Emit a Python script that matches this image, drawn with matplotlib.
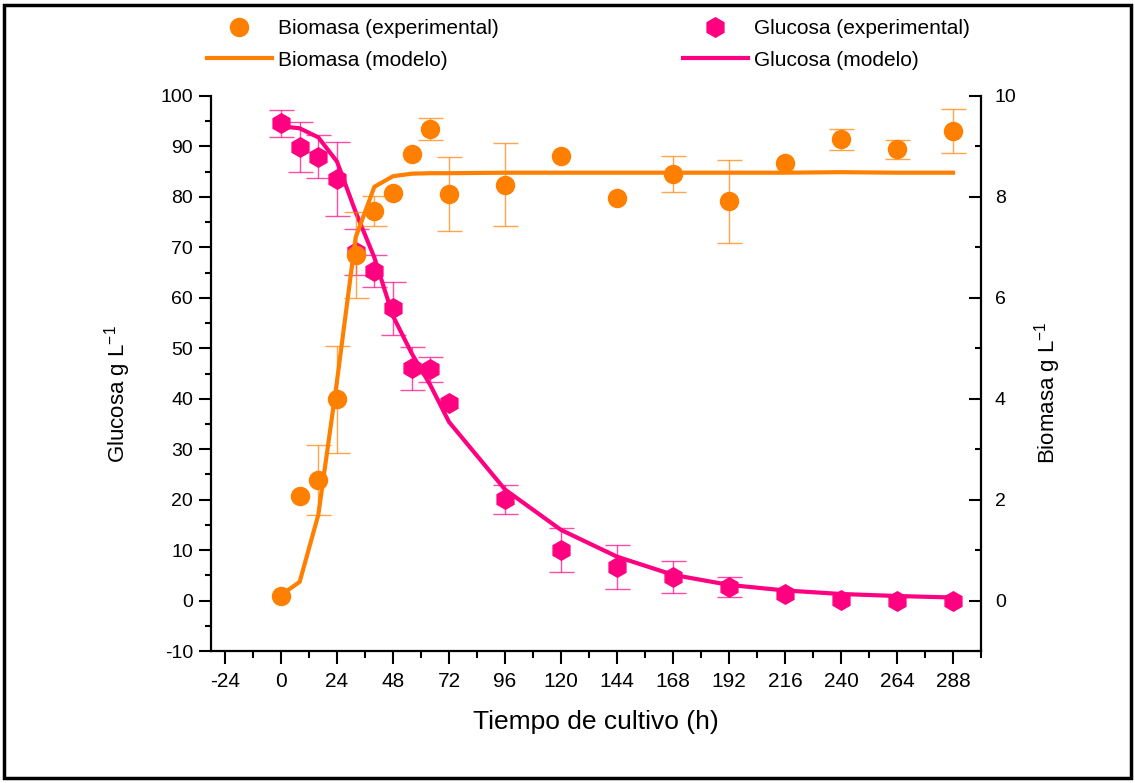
import numpy as np
import matplotlib
matplotlib.use('Agg')
import matplotlib.pyplot as plt
from matplotlib.ticker import MultipleLocator
from matplotlib.patches import Rectangle

# Datos (tiempo en h, glucosa en g/L, biomasa en g/L)
tiempo = [0, 8, 16, 24, 32, 40, 48, 56, 64, 72, 96, 120, 144, 168, 192, 216, 240, 264, 288]

glucosa_exp = [94.6, 89.9, 88.0, 83.5, 69.1, 65.3, 57.9, 46.0, 45.8, 39.2,
               20.1, 10.0, 6.6, 4.7, 2.7, 1.2, 0.1, 0.0, 0.0]
glucosa_err = [2.7, 5.0, 4.3, 7.3, 4.5, 3.1, 5.2, 4.3, 2.4, 0.0,
               2.9, 4.4, 4.4, 3.2, 1.9, 0.0, 0.0, 0.0, 0.0]
glucosa_modelo = [94.0, 93.6, 91.8, 87.0, 77.0, 68.0, 56.4, 49.0, 42.7, 35.4,
                  22.0, 14.0, 8.7, 5.1, 3.1, 2.0, 1.3, 0.9, 0.6]

biomasa_exp = [0.10, 2.07, 2.39, 3.99, 6.85, 7.72, 8.08, 8.86, 9.34, 8.06,
               8.24, 8.81, 7.97, 8.45, 7.91, 8.67, 9.14, 8.94, 9.31]
biomasa_err = [0.0, 0.0, 0.69, 1.06, 0.85, 0.30, 0.0, 0.0, 0.22, 0.74,
               0.82, 0.0, 0.0, 0.36, 0.82, 0.0, 0.21, 0.18, 0.44]
biomasa_modelo = [0.11, 0.37, 1.70, 4.35, 7.20, 8.20, 8.41, 8.46, 8.47, 8.47,
                  8.48, 8.48, 8.48, 8.48, 8.48, 8.48, 8.49, 8.48, 8.48]

NARANJA = '#FF8000'
ROSA = '#FF0080'

plt.rcParams['font.family'] = ['Liberation Sans', 'DejaVu Sans']
plt.rcParams['mathtext.default'] = 'regular'
plt.rcParams['axes.unicode_minus'] = False


def barras_error(ax, x, y, err, color):
    """Dibuja solo las barras de error distintas de cero."""
    x, y, err = np.asarray(x), np.asarray(y), np.asarray(err)
    m = err > 0
    ax.errorbar(x[m], y[m], yerr=err[m], fmt='none', ecolor=color, alpha=0.7,
                elinewidth=1, capsize=9, capthick=1, zorder=2)


W, H = 1135, 783
fig = plt.figure(figsize=(W / 100, H / 100), dpi=100)
ax = fig.add_axes([211 / W, 1 - 651 / H, 770 / W, 555 / H])
ax2 = ax.twinx()

# Glucosa (eje izquierdo)
barras_error(ax, tiempo, glucosa_exp, glucosa_err, ROSA)
g_line, = ax.plot(tiempo, glucosa_modelo, color=ROSA, lw=3, zorder=3)
g_pts, = ax.plot(tiempo, glucosa_exp, 'h', color=ROSA, ms=14, ls='none', zorder=4)

# Biomasa (eje derecho)
barras_error(ax2, tiempo, biomasa_exp, biomasa_err, NARANJA)
b_line, = ax2.plot(tiempo, biomasa_modelo, color=NARANJA, lw=3, zorder=3)
b_pts, = ax2.plot(tiempo, biomasa_exp, 'o', color=NARANJA, ms=13, ls='none', zorder=4)

ax.set_xlim(-30, 300)
ax.set_xticks(np.arange(-24, 289, 24))
ax.xaxis.set_minor_locator(MultipleLocator(12))
ax.set_ylim(-10, 100)
ax.yaxis.set_major_locator(MultipleLocator(10))
ax.yaxis.set_minor_locator(MultipleLocator(5))
ax2.set_ylim(-1, 10)
ax2.yaxis.set_major_locator(MultipleLocator(2))
ax2.yaxis.set_minor_locator(MultipleLocator(1))

for s in ['top', 'right']:
    ax.spines[s].set_visible(False)
for s in ['top', 'left', 'bottom']:
    ax2.spines[s].set_visible(False)
for s in ['left', 'bottom']:
    ax.spines[s].set_linewidth(1.6)
ax2.spines['right'].set_linewidth(1.6)

ax.tick_params(axis='y', which='major', direction='out', length=9, width=1.5, labelsize=14, pad=4)
ax.tick_params(axis='y', which='minor', direction='out', length=4.5, width=1.5)
ax.tick_params(axis='x', which='major', direction='out', length=9, width=1.5, labelsize=15, pad=6)
ax.tick_params(axis='x', which='minor', direction='out', length=5, width=1.5)
ax2.tick_params(axis='y', which='major', direction='in', length=9, width=1.5, labelsize=14, pad=10)
ax2.tick_params(axis='y', which='minor', direction='in', length=4, width=1.5)

ax.set_xlabel('Tiempo de cultivo (h)', fontsize=19, labelpad=14)
ax.set_ylabel('Glucosa g L$^{-1}$', fontsize=16)
ax2.set_ylabel('Biomasa g L$^{-1}$', fontsize=16)
ax.yaxis.set_label_coords(-0.101, 0.463)
ax2.yaxis.set_label_coords(1.066, 0.466)

# Leyendas en dos columnas sobre el grafico
ley_kw = dict(loc='upper left', frameon=False, fontsize=15, handlelength=3.1,
              handletextpad=0.3, labelspacing=0.6, borderpad=0, borderaxespad=0)
fig.legend([b_pts, b_line], ['Biomasa (experimental)', 'Biomasa (modelo)'],
           bbox_to_anchor=(207 / W, 1 - 19 / H), **ley_kw)
fig.legend([g_pts, g_line], ['Glucosa (experimental)', 'Glucosa (modelo)'],
           bbox_to_anchor=(683 / W, 1 - 19 / H), **ley_kw)

# Marco negro alrededor de la figura
fig.patches.append(Rectangle((4 / W, 5 / H), 1127 / W, 773 / H, transform=fig.transFigure,
                             fill=False, lw=2.5, ec='black'))

fig.savefig('out.png', dpi=100)
